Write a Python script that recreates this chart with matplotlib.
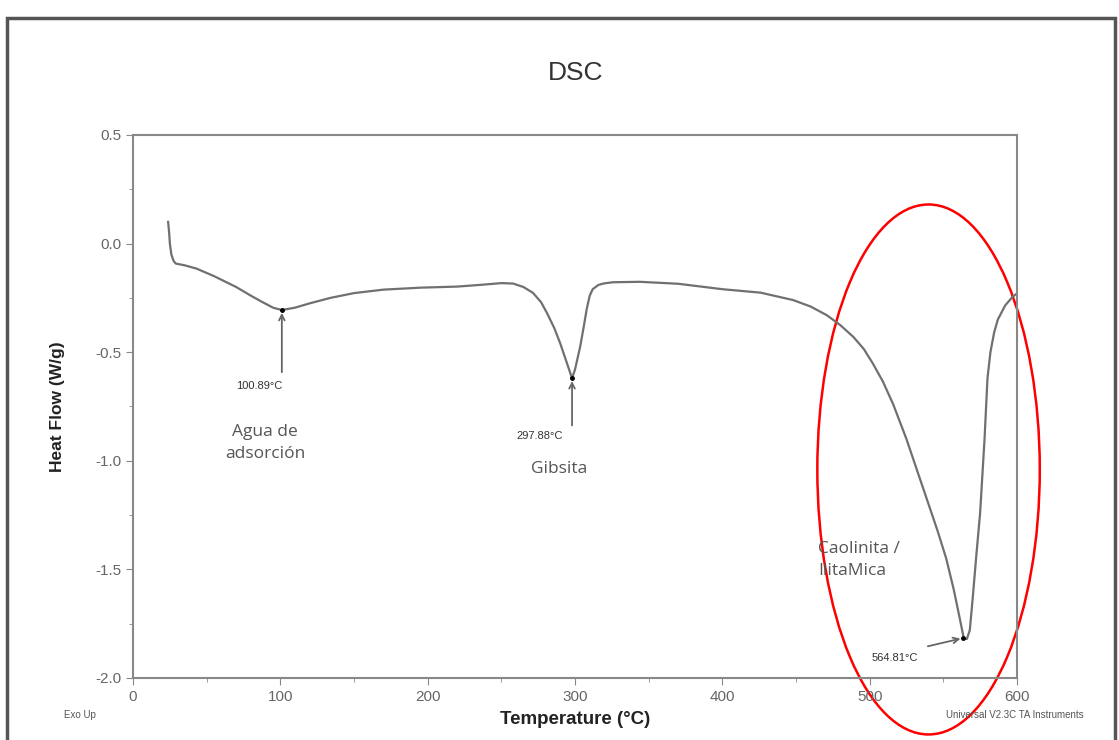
import matplotlib
matplotlib.use("Agg")
import matplotlib.pyplot as plt
from matplotlib.patches import Ellipse, Rectangle
from matplotlib.ticker import MultipleLocator

# DSC curve
temp = [23.8, 24.5, 25, 26, 27.5, 29, 35, 43, 55, 70, 80, 88, 95, 101, 110,
        120, 134, 150, 170, 195, 220, 236, 250, 258, 265, 271.5, 277, 281,
        286, 290, 294, 298, 300, 303.5, 306, 308, 310, 312, 316, 320, 326,
        344, 370, 400, 426, 448, 460, 471, 480, 489, 496, 502, 509, 516, 525,
        531, 539, 546, 552, 557, 561, 564, 566, 568, 570, 572.5, 575, 578,
        580, 582, 584.5, 587, 592, 597, 600]
heat_flow = [0.10, 0.05, 0.0, -0.05, -0.08, -0.092, -0.10, -0.115, -0.15,
             -0.20, -0.24, -0.27, -0.295, -0.306, -0.295, -0.275, -0.25,
             -0.228, -0.212, -0.203, -0.198, -0.19, -0.182, -0.184, -0.20,
             -0.227, -0.27, -0.32, -0.39, -0.46, -0.54, -0.62, -0.58, -0.475,
             -0.38, -0.30, -0.24, -0.21, -0.19, -0.183, -0.178, -0.176,
             -0.185, -0.21, -0.226, -0.26, -0.29, -0.33, -0.375, -0.43,
             -0.485, -0.55, -0.635, -0.74, -0.90, -1.02, -1.18, -1.32, -1.45,
             -1.59, -1.72, -1.82, -1.82, -1.78, -1.63, -1.43, -1.24, -0.90,
             -0.62, -0.50, -0.41, -0.35, -0.285, -0.245, -0.23]

# peaks: (label, peak x, peak y, text x, text y)
peaks = [("100.89°C", 101, -0.306, 86, -0.655),
         ("297.88°C", 298, -0.62, 276, -0.886),
         ("564.81°C", 563.5, -1.816, 517, -1.908)]
arrow_tails = [(101, -0.605), (298, -0.85), (537.7, -1.857)]

fig = plt.figure(figsize=(11.19, 7.4), dpi=100)
ax = fig.add_axes([0.1189, 0.0838, 0.7899, 0.7338])

# outer frame of the screenshot
fig.patches.append(Rectangle((7/1119, -0.05), (1115-7)/1119, 1.05 - 18/740,
                             transform=fig.transFigure, fill=False,
                             edgecolor='#555555', lw=2.5))

ax.plot(temp, heat_flow, color='#707070', lw=1.6)

ax.set_xlim(0, 600)
ax.set_ylim(-2.0, 0.5)
ax.xaxis.set_major_locator(MultipleLocator(100))
ax.xaxis.set_minor_locator(MultipleLocator(50))
ax.yaxis.set_major_locator(MultipleLocator(0.5))
ax.yaxis.set_minor_locator(MultipleLocator(0.25))
ax.yaxis.set_major_formatter(plt.FuncFormatter(lambda v, p: f"{v:.1f}"))
for s in ax.spines.values():
    s.set_color('#888888')
    s.set_linewidth(1.5)
ax.tick_params(which='both', direction='out', colors='#888888',
               labelcolor='#666666', labelsize=11)
ax.tick_params(which='major', length=5)
ax.tick_params(which='minor', length=3)
for lab in ax.get_xticklabels() + ax.get_yticklabels():
    lab.set_family('Liberation Sans')

ax.set_xlabel('Temperature (°C)', fontsize=13.5, fontweight='bold',
              family='Liberation Sans', color='#222222', labelpad=5)
ax.set_ylabel('Heat Flow (W/g)', fontsize=12.5, fontweight='bold',
              family='Liberation Sans', color='#222222', labelpad=22)

fig.text(0.514, 0.901, 'DSC', fontsize=19, family='Liberation Sans',
         color='#333333', ha='center', va='center')
fig.text(0.0715, 0.034, 'Exo Up', fontsize=7, family='Liberation Sans',
         color='#555555', ha='center', va='center')
fig.text(0.907, 0.034, 'Universal V2.3C TA Instruments', fontsize=7,
         family='Liberation Sans', color='#555555', ha='center', va='center')

for (lab, px, py, tx, ty), (ax_, ay_) in zip(peaks, arrow_tails):
    ax.annotate('', xy=(px, py), xytext=(ax_, ay_),
                arrowprops=dict(arrowstyle='->', color='#666666', lw=1.3))
    ax.plot(px, py, 'o', color='black', ms=2.5)
    ax.text(tx, ty, lab, fontsize=8, family='Liberation Sans',
            color='#333333', ha='center', va='center')

ax.text(89.6, -0.918, 'Agua de\nadsorción', fontsize=12.5, family='Open Sans',
        color='#555555', ha='center', va='center', linespacing=1.45)
ax.text(289, -1.04, 'Gibsita', fontsize=12.5, family='Open Sans',
        color='#555555', ha='center', va='center')
ax.text(465, -1.457, 'Caolinita /\nIlitaMica', fontsize=12.5,
        family='Open Sans', color='#555555', ha='left', va='center',
        linespacing=1.45)

ax.add_patch(Ellipse((540, -1.04), 151, 2.44, fill=False, edgecolor='red',
                     lw=1.8, clip_on=False))

fig.savefig('out.png', dpi=100)
